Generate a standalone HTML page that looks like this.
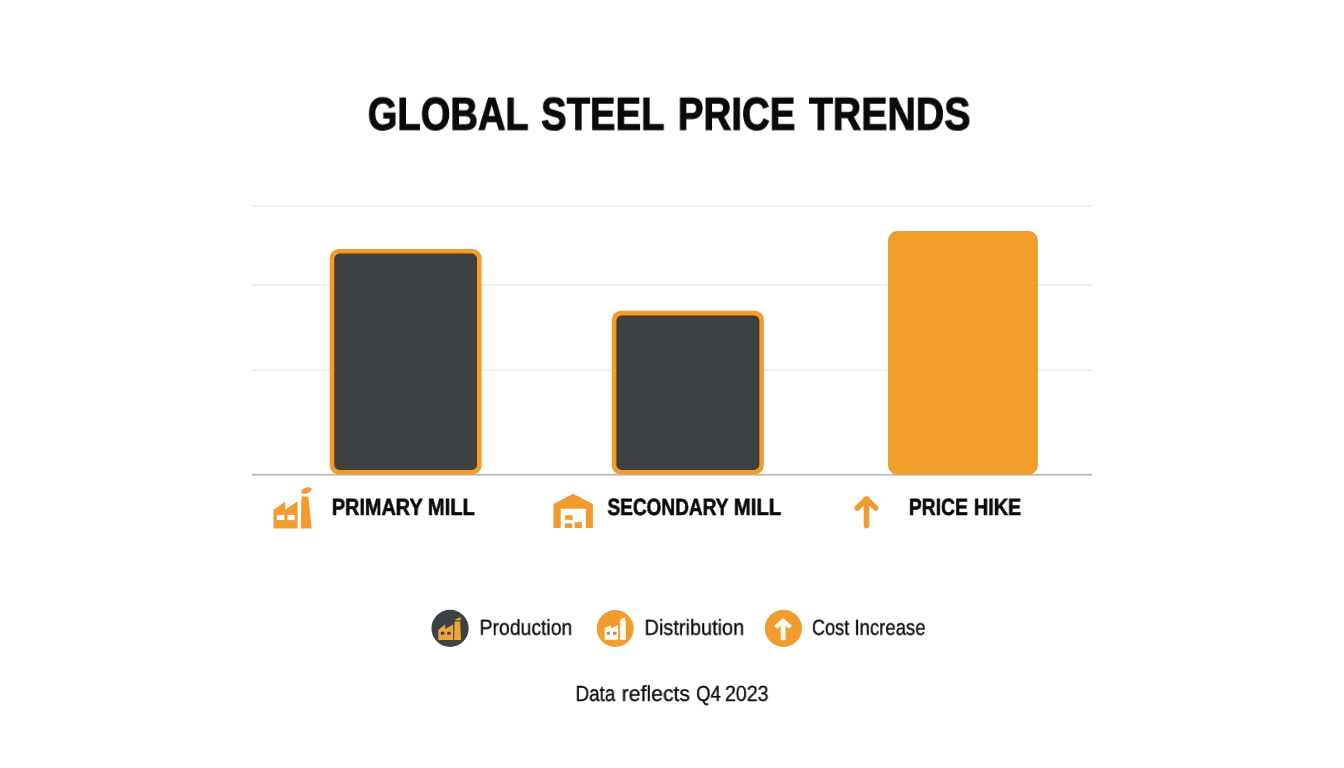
<!DOCTYPE html>
<html>
<head>
<meta charset="utf-8">
<style>
html,body{margin:0;padding:0;background:#ffffff;}
body{width:1344px;height:768px;position:relative;overflow:hidden;font-family:"Liberation Sans",sans-serif;}
svg.g{position:absolute;left:0;top:0;}
.t{position:absolute;white-space:nowrap;transform-origin:0 0;color:#0a0a0a;line-height:1;will-change:transform;text-rendering:geometricPrecision;}
.title{font-weight:700;font-size:46px;-webkit-text-stroke:1.1px #0a0a0a;}
.lab{font-weight:700;font-size:23.4px;-webkit-text-stroke:0.6px #0a0a0a;}
.leg{font-weight:400;font-size:21.8px;-webkit-text-stroke:0.3px #0a0a0a;}
</style>
</head>
<body>
<svg class="g" width="1344" height="768" viewBox="0 0 1344 768">
  <!-- gridlines -->
  <rect x="252" y="205.5" width="840" height="1.3" fill="#e9e9e9"/>
  <rect x="252" y="284.5" width="840" height="1.3" fill="#e9e9e9"/>
  <rect x="252" y="369.5" width="840" height="1.3" fill="#e9e9e9"/>
  <!-- baseline -->
  <rect x="252" y="473.8" width="840" height="1.8" fill="#b9b9b9"/>
  <!-- bars -->
  <rect x="329.7" y="249" width="151.9" height="225.5" rx="9" ry="9" fill="#f09c2e"/>
  <rect x="335.05" y="254.35" width="141.2" height="214.8" rx="4.5" ry="4.5" fill="#3e4144" stroke="#463a28" stroke-width="1.5"/>
  <rect x="611.8" y="310.8" width="152.1" height="163.7" rx="9" ry="9" fill="#f09c2e"/>
  <rect x="617.15" y="316.15" width="141.4" height="153.0" rx="4.5" ry="4.5" fill="#3e4144" stroke="#463a28" stroke-width="1.5"/>
  <rect x="888.6" y="231.6" width="148.7" height="242.6" rx="8.5" ry="8.5" fill="#f19e2b" stroke="#e19a3a" stroke-width="1"/>

  <!-- primary mill factory icon -->
  <g fill="#f29b30">
    <path d="M273.5 510 L285.3 501.5 L285.3 509.5 L297.6 501.2 L297.6 528.5 L273.5 528.5 Z"/>
    <path d="M301.5 496.6 L308.4 496.6 L311.6 528.5 L300.6 528.5 Z"/>
    <ellipse cx="306.4" cy="490.5" rx="5.6" ry="2.8" transform="rotate(-20 306.4 490.5)"/>
  </g>
  <rect x="276.8" y="514.9" width="7.5" height="5.2" fill="#ffffff"/>
  <rect x="287.5" y="514.9" width="7.2" height="5.2" fill="#ffffff"/>

  <!-- secondary mill warehouse icon -->
  <path fill="#f29b30" d="M553.5 503.9 L573.1 493.8 L592.9 503.9 L592.9 528 L585.8 528 L585.8 508.8 L560.7 508.8 L560.7 528 L553.5 528 Z"/>
  <g fill="#f29b30">
    <rect x="565.1" y="515.3" width="7.6" height="4.5"/>
    <rect x="564.8" y="523.4" width="7.3" height="4.6"/>
    <rect x="574.7" y="522.1" width="7.2" height="5.9"/>
  </g>

  <!-- price hike arrow -->
  <g fill="none" stroke="#f29b30" stroke-width="5.6" stroke-linecap="round" stroke-linejoin="round">
    <polyline points="857.3,508 866.5,499 875.7,508"/>
    <line x1="866.5" y1="500" x2="866.5" y2="525.6"/>
  </g>

  <!-- legend: production -->
  <circle cx="450.05" cy="628.4" r="18.6" fill="#3f4244"/>
  <g fill="#f0a53c">
    <path d="M438.3 630 L445.2 624.3 L445.2 629 L453.2 624.6 L453.2 640.1 L438.3 640.1 Z"/>
    <path d="M454.6 621.5 L460.2 621.5 L461 640.1 L454.1 640.1 Z"/>
    <path d="M455 619.5 L460.7 617.2 L460.7 620.3 L455 620.3 Z"/>
  </g>
  <rect x="440.9" y="631.8" width="3.4" height="2.9" fill="#3f4244"/>
  <rect x="447.2" y="631.8" width="3.4" height="2.9" fill="#3f4244"/>

  <!-- legend: distribution -->
  <circle cx="615.2" cy="628.5" r="18.5" fill="#f09c2e"/>
  <g fill="#fffbf2">
    <path d="M604.7 628 L610.8 625.5 L610.8 628.6 L618.2 624.9 L618.2 639.8 L604.7 639.8 Z"/>
    <path d="M620.3 620.3 L625.7 620.3 L626 639.8 L620 639.8 Z"/>
    <path d="M620.5 619.3 L625 617.2 L625 619.8 L620.5 619.8 Z"/>
  </g>
  <rect x="606.8" y="631.8" width="3.1" height="2.9" fill="#a8935e"/>
  <rect x="613" y="631.8" width="3.5" height="2.9" fill="#a8935e"/>

  <!-- legend: cost increase -->
  <circle cx="783.4" cy="628.4" r="18.6" fill="#f09c2e"/>
  <path fill="#fffbf2" stroke="#fffbf2" stroke-width="0.6" stroke-linejoin="round" d="M783.15 618.3 L791.7 625.8 L789.0 628.5 L785.3 625.3 L785.3 639.8 L781.0 639.8 L781.0 625.3 L777.3 628.5 L774.6 625.8 Z"/>
</svg>

<!--TEXT-->
<div class="t title" style="left:367px;top:90.5px;transform:translate(0.779px,-0.25px) scaleX(0.8284)">GLOBAL</div>
<div class="t title" style="left:541px;top:90.5px;transform:translate(0.078px,-0.25px) scaleX(0.8322)">STEEL</div>
<div class="t title" style="left:677px;top:90.5px;transform:translate(0.823px,-0.25px) scaleX(0.8356)">PRICE</div>
<div class="t title" style="left:808px;top:90.5px;transform:translate(0.887px,-0.25px) scaleX(0.8539)">TRENDS</div>
<div class="t lab" style="left:331px;top:496.2px;transform:translate(0.860px,-0.05px) scaleX(0.8483)">PRIMARY</div>
<div class="t lab" style="left:427px;top:496.2px;transform:translate(0.854px,-0.05px) scaleX(0.8631)">MILL</div>
<div class="t lab" style="left:607px;top:496.2px;transform:translate(0.485px,-0.05px) scaleX(0.8135)">SECONDARY</div>
<div class="t lab" style="left:733px;top:496.2px;transform:translate(0.833px,-0.05px) scaleX(0.8687)">MILL</div>
<div class="t lab" style="left:908px;top:496.2px;transform:translate(0.902px,-0.05px) scaleX(0.8239)">PRICE</div>
<div class="t lab" style="left:973px;top:496.2px;transform:translate(0.879px,-0.05px) scaleX(0.8473)">HIKE</div>
<div class="t leg" style="left:479px;top:617.0px;transform:translate(0.591px,-0.24px) scaleX(0.8898)">Production</div>
<div class="t leg" style="left:644px;top:617.0px;transform:translate(0.535px,-0.24px) scaleX(0.9137)">Distribution</div>
<div class="t leg" style="left:811px;top:617.0px;transform:translate(0.938px,-0.24px) scaleX(0.8323)">Cost</div>
<div class="t leg" style="left:854px;top:617.0px;transform:translate(0.427px,-0.24px) scaleX(0.8512)">Increase</div>
<div class="t leg" style="left:575px;top:683.4px;transform:translate(0.614px,-0.1px) scaleX(0.8596)">Data</div>
<div class="t leg" style="left:621px;top:683.4px;transform:translate(0.623px,-0.1px) scaleX(0.9738)">reflects</div>
<div class="t leg" style="left:696px;top:683.4px;transform:translate(0.084px,-0.1px) scaleX(0.8501)">Q4</div>
<div class="t leg" style="left:724px;top:683.4px;transform:translate(0.946px,-0.1px) scaleX(0.9015)">2023</div>
<!--/TEXT-->
</body>
</html>
